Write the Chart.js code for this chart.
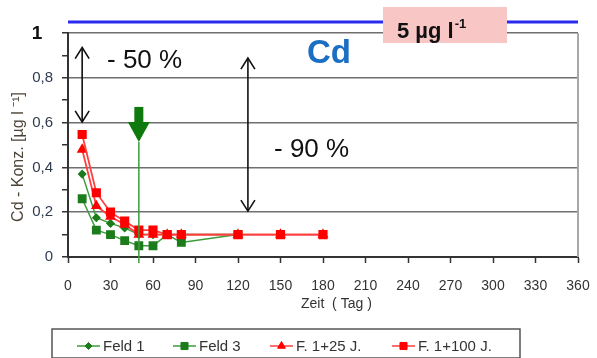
<!DOCTYPE html>
<html>
<head>
<meta charset="utf-8">
<script src="https://cdn.jsdelivr.net/npm/chart.js@4"></script>
<style>
html,body{margin:0;padding:0;background:#fff;}
canvas{display:block;}
</style>
</head>
<body>
<canvas id="c" width="597" height="358"></canvas>
<script>
const days = [10, 20, 30, 40, 50, 60, 70, 80, 120, 150, 180];
const feld1 = [0.37, 0.175, 0.15, 0.13, 0.1, 0.1, 0.1, 0.1, 0.1, null, null];
const feld3 = [0.26, 0.12, 0.1, 0.073, 0.05, 0.05, 0.1, 0.065, 0.1, null, null];
const f25 = [0.48, 0.228, 0.18, 0.145, 0.1, 0.1, 0.1, 0.1, 0.1, 0.1, 0.1];
const f100 = [0.547, 0.287, 0.2, 0.16, 0.12, 0.12, 0.1, 0.1, 0.1, 0.1, 0.1];
const seriesNames = ['Feld 1', 'Feld 3', 'F. 1+25 J.', 'F. 1+100 J.'];
const xTickStep = 30;
const yTickLabels = {0: '0', 2: '0,2', 4: '0,4', 6: '0,6', 8: '0,8'};

const FONT = "'Liberation Sans', Arial, sans-serif";
const pts = arr => days.map((d, i) => ({x: d, y: arr[i]})).filter(p => p.y !== null);

const GREEN_LINE = '#3c9c3c', GREEN_PT = '#1c7c1c', RED_LINE = '#ff4040', RED_PT = '#ff0000';

function arrowHead(ctx, x, y, dir) {
  ctx.beginPath();
  ctx.moveTo(x - 7, y - dir * 11);
  ctx.lineTo(x, y);
  ctx.lineTo(x + 7, y - dir * 11);
  ctx.stroke();
}

const deco = {
  id: 'deco',
  afterDatasetsDraw(chart) {
    const ctx = chart.ctx, xs = chart.scales.x, ys = chart.scales.y, ca = chart.chartArea;
    ctx.save();
    // right border
    ctx.strokeStyle = '#a8a8a8'; ctx.lineWidth = 2;
    ctx.beginPath(); ctx.moveTo(ca.right, ca.top); ctx.lineTo(ca.right, ca.bottom); ctx.stroke();
    // blue limit line
    ctx.strokeStyle = '#2b2bf0'; ctx.lineWidth = 3;
    ctx.beginPath(); ctx.moveTo(ca.left, 22); ctx.lineTo(ca.right, 22); ctx.stroke();
    // pink box
    ctx.fillStyle = '#f9c6c6';
    ctx.fillRect(383, 7, 124, 36);
    ctx.fillStyle = '#111';
    ctx.textBaseline = 'alphabetic'; ctx.textAlign = 'left';
    ctx.font = 'bold 22px ' + FONT;
    ctx.fillText('5 µg l', 397, 38);
    const w = ctx.measureText('5 µg l').width;
    ctx.font = 'bold 13px ' + FONT;
    ctx.fillText('-1', 397 + w + 1, 28);
    // Cd
    ctx.fillStyle = '#1a6fc4';
    ctx.font = 'bold 33px ' + FONT;
    ctx.fillText('Cd', 307, 63);
    // percent texts
    ctx.fillStyle = '#111';
    ctx.font = '26px ' + FONT;
    ctx.fillText('- 50 %', 107, 68);
    ctx.fillText('- 90 %', 274, 157);
    // double arrows
    ctx.strokeStyle = '#111'; ctx.lineWidth = 1.6;
    let ax = xs.getPixelForValue(10), y1 = ys.getPixelForValue(0.935), y2 = ys.getPixelForValue(0.603);
    ctx.beginPath(); ctx.moveTo(ax, y1); ctx.lineTo(ax, y2); ctx.stroke();
    arrowHead(ctx, ax, y1, -1); arrowHead(ctx, ax, y2, 1);
    ax = xs.getPixelForValue(127); y1 = ys.getPixelForValue(0.888); y2 = ys.getPixelForValue(0.205);
    ctx.beginPath(); ctx.moveTo(ax, y1); ctx.lineTo(ax, y2); ctx.stroke();
    arrowHead(ctx, ax, y1, -1); arrowHead(ctx, ax, y2, 1);
    // green arrow at day 50
    const gx = xs.getPixelForValue(50);
    const gTop = ys.getPixelForValue(0.67), gBase = ys.getPixelForValue(0.603), gTip = ys.getPixelForValue(0.513);
    ctx.strokeStyle = GREEN_LINE; ctx.lineWidth = 1.5;
    ctx.beginPath(); ctx.moveTo(gx, gTip); ctx.lineTo(gx, ca.bottom + 6); ctx.stroke();
    ctx.fillStyle = '#0e7a0e';
    ctx.fillRect(gx - 4.5, gTop, 9, gBase - gTop + 1);
    ctx.beginPath(); ctx.moveTo(gx - 11, gBase); ctx.lineTo(gx + 11, gBase); ctx.lineTo(gx, gTip); ctx.closePath(); ctx.fill();
    ctx.restore();
  },
  afterDraw(chart) {
    const ctx = chart.ctx;
    ctx.save();
    // y max label "1"
    ctx.fillStyle = '#111'; ctx.font = 'bold 19px ' + FONT;
    ctx.textAlign = 'center'; ctx.textBaseline = 'middle';
    ctx.fillText('1', 37, 34);
    // y title
    ctx.save();
    ctx.translate(19, 157); ctx.rotate(-Math.PI / 2);
    ctx.fillStyle = '#4d4438'; ctx.font = '16px ' + FONT;
    ctx.textAlign = 'center';
    ctx.fillText('Cd - Konz. [µg l ⁻¹]', 0, 0);
    ctx.restore();
    // x title
    ctx.fillStyle = '#333'; ctx.font = '14px ' + FONT;
    ctx.textAlign = 'left';
    ctx.fillText('Zeit  ( Tag )', 301, 304);
    // legend
    ctx.strokeStyle = '#555'; ctx.lineWidth = 1.5;
    ctx.strokeRect(52, 329, 468, 29);
    const items = [
      {x: 77, line: GREEN_LINE, pt: GREEN_PT, style: 'rectRot', r: 3.5},
      {x: 173, line: GREEN_LINE, pt: GREEN_PT, style: 'rect', r: 5},
      {x: 270, line: RED_LINE, pt: RED_PT, style: 'triangle', r: 4.5},
      {x: 392, line: RED_LINE, pt: RED_PT, style: 'rect', r: 5}
    ];
    const ly = 346;
    items.forEach((it, i) => {
      ctx.strokeStyle = it.line; ctx.lineWidth = 1.5;
      ctx.beginPath(); ctx.moveTo(it.x, ly); ctx.lineTo(it.x + 23, ly); ctx.stroke();
      ctx.fillStyle = it.pt; ctx.strokeStyle = it.pt; ctx.lineWidth = 1;
      Chart.helpers.drawPoint(ctx, {pointStyle: it.style, radius: it.r, rotation: 0, borderWidth: 1}, it.x + 11.5, ly);
      ctx.fillStyle = '#333'; ctx.font = '15px ' + FONT;
      ctx.textAlign = 'left'; ctx.textBaseline = 'middle';
      ctx.fillText(seriesNames[i], it.x + 26, ly + 1);
    });
    ctx.restore();
  }
};

new Chart(document.getElementById('c'), {
  type: 'line',
  data: {
    datasets: [
      {label: seriesNames[0], data: pts(feld1), borderColor: GREEN_LINE, backgroundColor: GREEN_PT, pointBorderColor: GREEN_PT,
       pointStyle: 'rectRot', pointRadius: 3.5, borderWidth: 1.5, order: 3},
      {label: seriesNames[1], data: pts(feld3), borderColor: GREEN_LINE, backgroundColor: GREEN_PT, pointBorderColor: GREEN_PT,
       pointStyle: 'rect', pointRadius: 5.2, borderWidth: 1.5, order: 4},
      {label: seriesNames[2], data: pts(f25), borderColor: RED_LINE, backgroundColor: RED_PT, pointBorderColor: RED_PT,
       pointStyle: 'triangle', pointRadius: 4.5, borderWidth: 1.8, order: 2},
      {label: seriesNames[3], data: pts(f100), borderColor: RED_LINE, backgroundColor: RED_PT, pointBorderColor: RED_PT,
       pointStyle: 'rect', pointRadius: 5.2, borderWidth: 1.8, order: 1}
    ]
  },
  options: {
    responsive: false,
    animation: false,
    events: [],
    layout: {padding: {top: 33, right: 19, left: 0, bottom: 61}},
    plugins: {legend: {display: false}, tooltip: {enabled: false}},
    elements: {line: {tension: 0}},
    scales: {
      x: {
        type: 'linear', min: 0, max: 360,
        ticks: {stepSize: xTickStep, color: '#333', font: {family: FONT, size: 14}, padding: 15, maxRotation: 0, autoSkip: false},
        grid: {display: true, drawOnChartArea: false, tickLength: 6, tickColor: '#333', tickWidth: 1.5},
        border: {color: '#333', width: 2},
        afterFit: s => { s.height = 40; s.paddingLeft = 0; s.paddingRight = 0; }
      },
      y: {
        min: 0, max: 1,
        ticks: {
          stepSize: 0.1, color: '#2e3b4e', font: {family: FONT, size: 15}, padding: 9, autoSkip: false,
          callback: v => { const k = Math.round(v * 10); return yTickLabels[k] !== undefined ? yTickLabels[k] : ''; }
        },
        grid: {
          color: c => { const k = Math.round(c.tick.value * 10); return (k > 0 && k % 2 === 0) ? '#6f6f6f' : 'rgba(0,0,0,0)'; },
          lineWidth: 1.5, borderDash: [2, 2], tickLength: 6, tickColor: '#333', tickWidth: 1.5, tickBorderDash: []
        },
        border: {color: '#333', width: 2},
        afterFit: s => { s.width = 68; s.paddingTop = 0; s.paddingBottom = 0; }
      }
    }
  },
  plugins: [deco]
});
</script>
</body>
</html>
